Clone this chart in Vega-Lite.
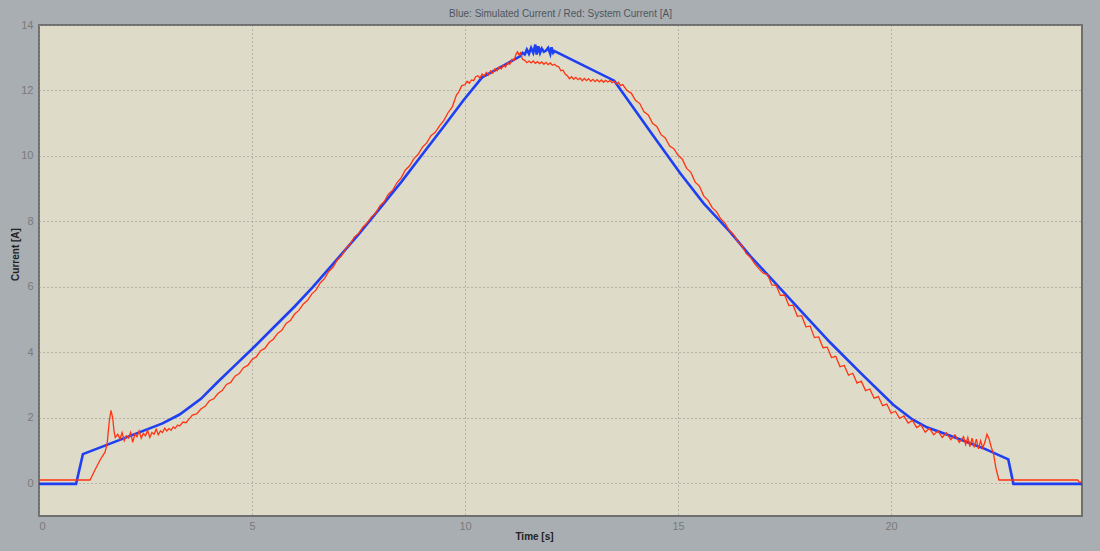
{
  "$schema": "https://vega.github.io/schema/vega-lite/v6.json",
  "autosize": "none",
  "width": 1043,
  "height": 491,
  "padding": {"left": 39, "top": 25, "right": 18, "bottom": 35},
  "background": "#a9aeb2",
  "title": {
    "text": "Blue: Simulated Current / Red: System Current [A]",
    "anchor": "middle",
    "font": "Liberation Sans",
    "fontSize": 10,
    "fontWeight": "normal",
    "color": "#4e5660",
    "baseline": "middle",
    "offset": 10,
    "dy": 15
  },
  "config": {
    "view": {"fill": "#dedbc9", "stroke": "#6f6f6f", "strokeWidth": 2},
    "axis": {
      "labelFont": "Liberation Sans",
      "labelFontSize": 11,
      "labelColor": "#7a7a7a",
      "titleFont": "Liberation Sans",
      "titleFontSize": 10,
      "titleFontWeight": "bold",
      "titleColor": "#222222",
      "ticks": false,
      "domain": false,
      "grid": true,
      "gridColor": "#8c8c8c",
      "gridDash": [1, 3],
      "gridWidth": 1
    }
  },
  "datasets": {
    "simulated": [
      {"t": 0, "v": -0.02}, {"t": 0.87, "v": -0.02}, {"t": 1.03, "v": 0.89},
      {"t": 2.9, "v": 1.83}, {"t": 3.3, "v": 2.1}, {"t": 3.8, "v": 2.58},
      {"t": 4.2, "v": 3.1}, {"t": 4.6, "v": 3.6}, {"t": 5.0, "v": 4.1},
      {"t": 5.5, "v": 4.75}, {"t": 6.0, "v": 5.4}, {"t": 6.43, "v": 6.0},
      {"t": 7.0, "v": 6.85}, {"t": 7.5, "v": 7.6}, {"t": 8.0, "v": 8.4},
      {"t": 8.5, "v": 9.2}, {"t": 9.0, "v": 10.05}, {"t": 9.5, "v": 10.9},
      {"t": 9.95, "v": 11.68}, {"t": 10.4, "v": 12.4}, {"t": 11.3, "v": 13.05},
      {"t": 11.35, "v": 13.15}, {"t": 11.4, "v": 13.1}, {"t": 11.45, "v": 13.25},
      {"t": 11.5, "v": 13.12}, {"t": 11.55, "v": 13.3}, {"t": 11.6, "v": 13.15},
      {"t": 11.65, "v": 13.4}, {"t": 11.68, "v": 13.1}, {"t": 11.72, "v": 13.35},
      {"t": 11.76, "v": 13.15}, {"t": 11.8, "v": 13.28}, {"t": 11.85, "v": 13.18},
      {"t": 11.9, "v": 13.22}, {"t": 11.95, "v": 13.3}, {"t": 12.0, "v": 13.12},
      {"t": 12.03, "v": 13.32}, {"t": 12.07, "v": 13.15}, {"t": 12.1, "v": 13.2},
      {"t": 13.5, "v": 12.3}, {"t": 13.8, "v": 11.75}, {"t": 14.4, "v": 10.65},
      {"t": 15.05, "v": 9.47}, {"t": 15.6, "v": 8.55}, {"t": 16.22, "v": 7.68},
      {"t": 16.69, "v": 6.95}, {"t": 17.39, "v": 5.96}, {"t": 18.0, "v": 5.1},
      {"t": 18.57, "v": 4.3}, {"t": 19.3, "v": 3.35}, {"t": 20.05, "v": 2.4},
      {"t": 20.5, "v": 1.95}, {"t": 20.84, "v": 1.71}, {"t": 21.5, "v": 1.4},
      {"t": 22.2, "v": 1.05}, {"t": 22.75, "v": 0.73}, {"t": 22.87, "v": -0.02},
      {"t": 24.48, "v": -0.02}
    ],
    "system": [
      {"t": 0, "v": 0.1}, {"t": 1.2, "v": 0.1}, {"t": 1.31, "v": 0.4}, {"t": 1.45, "v": 0.75},
      {"t": 1.55, "v": 0.95}, {"t": 1.6, "v": 1.22}, {"t": 1.65, "v": 1.9}, {"t": 1.69, "v": 2.23},
      {"t": 1.73, "v": 2.0}, {"t": 1.76, "v": 1.6}, {"t": 1.79, "v": 1.4}, {"t": 1.85, "v": 1.5},
      {"t": 1.9, "v": 1.35}, {"t": 1.95, "v": 1.55}, {"t": 2.0, "v": 1.3}, {"t": 2.05, "v": 1.45},
      {"t": 2.1, "v": 1.38}, {"t": 2.15, "v": 1.55}, {"t": 2.2, "v": 1.25}, {"t": 2.25, "v": 1.5},
      {"t": 2.3, "v": 1.42}, {"t": 2.35, "v": 1.6}, {"t": 2.4, "v": 1.38}, {"t": 2.45, "v": 1.52},
      {"t": 2.5, "v": 1.45}, {"t": 2.55, "v": 1.62}, {"t": 2.6, "v": 1.4}, {"t": 2.65, "v": 1.55},
      {"t": 2.7, "v": 1.5}, {"t": 2.75, "v": 1.65}, {"t": 2.8, "v": 1.48}, {"t": 2.85, "v": 1.6},
      {"t": 2.9, "v": 1.55}, {"t": 2.95, "v": 1.68}, {"t": 3.0, "v": 1.6}, {"t": 3.05, "v": 1.67},
      {"t": 3.1, "v": 1.62}, {"t": 3.15, "v": 1.72}, {"t": 3.2, "v": 1.68}, {"t": 3.25, "v": 1.78},
      {"t": 3.3, "v": 1.75}, {"t": 3.38, "v": 1.87}, {"t": 3.45, "v": 1.85}, {"t": 3.5, "v": 1.93},
      {"t": 3.6, "v": 2.08}, {"t": 3.7, "v": 2.12}, {"t": 3.8, "v": 2.27}, {"t": 3.9, "v": 2.35},
      {"t": 4.0, "v": 2.52}, {"t": 4.1, "v": 2.58}, {"t": 4.2, "v": 2.74}, {"t": 4.3, "v": 2.83},
      {"t": 4.4, "v": 3.02}, {"t": 4.5, "v": 3.08}, {"t": 4.6, "v": 3.27}, {"t": 4.7, "v": 3.35},
      {"t": 4.8, "v": 3.53}, {"t": 4.9, "v": 3.6}, {"t": 5.0, "v": 3.78}, {"t": 5.1, "v": 3.86},
      {"t": 5.2, "v": 4.05}, {"t": 5.3, "v": 4.12}, {"t": 5.4, "v": 4.3}, {"t": 5.5, "v": 4.4},
      {"t": 5.6, "v": 4.58}, {"t": 5.7, "v": 4.67}, {"t": 5.8, "v": 4.88}, {"t": 5.9, "v": 4.97},
      {"t": 6.0, "v": 5.17}, {"t": 6.1, "v": 5.28}, {"t": 6.2, "v": 5.47}, {"t": 6.3, "v": 5.58},
      {"t": 6.4, "v": 5.78}, {"t": 6.5, "v": 5.9}, {"t": 6.6, "v": 6.12}, {"t": 6.7, "v": 6.25},
      {"t": 6.8, "v": 6.47}, {"t": 6.9, "v": 6.6}, {"t": 7.0, "v": 6.82}, {"t": 7.1, "v": 6.95},
      {"t": 7.2, "v": 7.17}, {"t": 7.3, "v": 7.3}, {"t": 7.4, "v": 7.52}, {"t": 7.5, "v": 7.63},
      {"t": 7.6, "v": 7.82}, {"t": 7.7, "v": 7.95}, {"t": 7.8, "v": 8.13}, {"t": 7.9, "v": 8.25},
      {"t": 8.0, "v": 8.47}, {"t": 8.1, "v": 8.6}, {"t": 8.2, "v": 8.83}, {"t": 8.3, "v": 8.95},
      {"t": 8.4, "v": 9.18}, {"t": 8.5, "v": 9.33}, {"t": 8.6, "v": 9.57}, {"t": 8.7, "v": 9.7},
      {"t": 8.8, "v": 9.92}, {"t": 8.9, "v": 10.05}, {"t": 9.0, "v": 10.27}, {"t": 9.1, "v": 10.4},
      {"t": 9.2, "v": 10.62}, {"t": 9.3, "v": 10.72}, {"t": 9.4, "v": 10.92}, {"t": 9.5, "v": 11.08},
      {"t": 9.6, "v": 11.32}, {"t": 9.7, "v": 11.5}, {"t": 9.8, "v": 11.87}, {"t": 9.85, "v": 11.95},
      {"t": 9.92, "v": 12.14}, {"t": 10.0, "v": 12.18}, {"t": 10.05, "v": 12.28}, {"t": 10.1, "v": 12.22},
      {"t": 10.15, "v": 12.32}, {"t": 10.2, "v": 12.3}, {"t": 10.25, "v": 12.42}, {"t": 10.3, "v": 12.45},
      {"t": 10.35, "v": 12.38}, {"t": 10.4, "v": 12.5}, {"t": 10.45, "v": 12.44}, {"t": 10.5, "v": 12.55},
      {"t": 10.55, "v": 12.47}, {"t": 10.6, "v": 12.6}, {"t": 10.65, "v": 12.53}, {"t": 10.7, "v": 12.66},
      {"t": 10.75, "v": 12.6}, {"t": 10.8, "v": 12.72}, {"t": 10.85, "v": 12.66}, {"t": 10.9, "v": 12.78},
      {"t": 10.95, "v": 12.72}, {"t": 11.0, "v": 12.85}, {"t": 11.05, "v": 12.8}, {"t": 11.1, "v": 12.95},
      {"t": 11.15, "v": 12.92}, {"t": 11.2, "v": 13.12}, {"t": 11.23, "v": 13.18}, {"t": 11.27, "v": 13.08},
      {"t": 11.3, "v": 13.15}, {"t": 11.35, "v": 12.95}, {"t": 11.4, "v": 12.92}, {"t": 11.45, "v": 12.85},
      {"t": 11.5, "v": 12.9}, {"t": 11.55, "v": 12.84}, {"t": 11.6, "v": 12.9}, {"t": 11.65, "v": 12.83},
      {"t": 11.7, "v": 12.88}, {"t": 11.75, "v": 12.82}, {"t": 11.8, "v": 12.87}, {"t": 11.85, "v": 12.8},
      {"t": 11.9, "v": 12.86}, {"t": 11.95, "v": 12.79}, {"t": 12.0, "v": 12.84}, {"t": 12.05, "v": 12.77},
      {"t": 12.1, "v": 12.8}, {"t": 12.15, "v": 12.74}, {"t": 12.2, "v": 12.72}, {"t": 12.25, "v": 12.6},
      {"t": 12.3, "v": 12.62}, {"t": 12.35, "v": 12.5}, {"t": 12.4, "v": 12.45}, {"t": 12.45, "v": 12.36},
      {"t": 12.5, "v": 12.42}, {"t": 12.55, "v": 12.34}, {"t": 12.6, "v": 12.4}, {"t": 12.65, "v": 12.33},
      {"t": 12.7, "v": 12.38}, {"t": 12.75, "v": 12.3}, {"t": 12.8, "v": 12.37}, {"t": 12.85, "v": 12.3},
      {"t": 12.9, "v": 12.36}, {"t": 12.95, "v": 12.28}, {"t": 13.0, "v": 12.34}, {"t": 13.05, "v": 12.27},
      {"t": 13.1, "v": 12.33}, {"t": 13.15, "v": 12.26}, {"t": 13.2, "v": 12.32}, {"t": 13.25, "v": 12.25},
      {"t": 13.3, "v": 12.31}, {"t": 13.35, "v": 12.26}, {"t": 13.4, "v": 12.3}, {"t": 13.45, "v": 12.24},
      {"t": 13.5, "v": 12.28}, {"t": 13.55, "v": 12.2}, {"t": 13.6, "v": 12.25}, {"t": 13.65, "v": 12.15},
      {"t": 13.7, "v": 12.18}, {"t": 13.8, "v": 12.0}, {"t": 13.9, "v": 11.92}, {"t": 14.0, "v": 11.7},
      {"t": 14.1, "v": 11.6}, {"t": 14.2, "v": 11.35}, {"t": 14.3, "v": 11.25}, {"t": 14.4, "v": 11.0},
      {"t": 14.5, "v": 10.9}, {"t": 14.6, "v": 10.65}, {"t": 14.7, "v": 10.55}, {"t": 14.8, "v": 10.3},
      {"t": 14.9, "v": 10.22}, {"t": 15.0, "v": 10.02}, {"t": 15.1, "v": 9.9}, {"t": 15.2, "v": 9.62},
      {"t": 15.3, "v": 9.5}, {"t": 15.4, "v": 9.2}, {"t": 15.5, "v": 9.08}, {"t": 15.6, "v": 8.78},
      {"t": 15.7, "v": 8.65}, {"t": 15.8, "v": 8.42}, {"t": 15.9, "v": 8.3}, {"t": 16.0, "v": 8.08},
      {"t": 16.1, "v": 7.95}, {"t": 16.2, "v": 7.73}, {"t": 16.3, "v": 7.6}, {"t": 16.4, "v": 7.38},
      {"t": 16.5, "v": 7.25}, {"t": 16.6, "v": 7.02}, {"t": 16.7, "v": 6.9}, {"t": 16.8, "v": 6.7},
      {"t": 16.9, "v": 6.55}, {"t": 17.0, "v": 6.42}, {"t": 17.1, "v": 6.38}, {"t": 17.2, "v": 6.06},
      {"t": 17.3, "v": 6.05}, {"t": 17.4, "v": 5.74}, {"t": 17.5, "v": 5.75}, {"t": 17.6, "v": 5.43},
      {"t": 17.7, "v": 5.44}, {"t": 17.8, "v": 5.1}, {"t": 17.9, "v": 5.12}, {"t": 18.0, "v": 4.78},
      {"t": 18.1, "v": 4.8}, {"t": 18.2, "v": 4.45}, {"t": 18.3, "v": 4.47}, {"t": 18.4, "v": 4.14},
      {"t": 18.5, "v": 4.16}, {"t": 18.6, "v": 3.84}, {"t": 18.7, "v": 3.88}, {"t": 18.8, "v": 3.56},
      {"t": 18.9, "v": 3.6}, {"t": 19.0, "v": 3.3}, {"t": 19.1, "v": 3.36}, {"t": 19.2, "v": 3.06},
      {"t": 19.3, "v": 3.12}, {"t": 19.4, "v": 2.83}, {"t": 19.5, "v": 2.88}, {"t": 19.6, "v": 2.6},
      {"t": 19.7, "v": 2.65}, {"t": 19.8, "v": 2.37}, {"t": 19.9, "v": 2.42}, {"t": 20.0, "v": 2.14},
      {"t": 20.1, "v": 2.2}, {"t": 20.2, "v": 1.98}, {"t": 20.3, "v": 2.06}, {"t": 20.4, "v": 1.84},
      {"t": 20.5, "v": 1.92}, {"t": 20.6, "v": 1.7}, {"t": 20.7, "v": 1.78}, {"t": 20.8, "v": 1.56},
      {"t": 20.9, "v": 1.68}, {"t": 21.0, "v": 1.48}, {"t": 21.1, "v": 1.6}, {"t": 21.2, "v": 1.4},
      {"t": 21.3, "v": 1.54}, {"t": 21.4, "v": 1.33}, {"t": 21.5, "v": 1.48}, {"t": 21.6, "v": 1.25},
      {"t": 21.7, "v": 1.42}, {"t": 21.75, "v": 1.18}, {"t": 21.8, "v": 1.4}, {"t": 21.85, "v": 1.12},
      {"t": 21.9, "v": 1.38}, {"t": 21.95, "v": 1.1}, {"t": 22.0, "v": 1.35}, {"t": 22.05, "v": 1.05},
      {"t": 22.1, "v": 1.3}, {"t": 22.15, "v": 1.08}, {"t": 22.2, "v": 1.25}, {"t": 22.25, "v": 1.5},
      {"t": 22.3, "v": 1.35}, {"t": 22.35, "v": 1.1}, {"t": 22.4, "v": 0.92}, {"t": 22.46, "v": 0.46},
      {"t": 22.53, "v": 0.1}, {"t": 24.38, "v": 0.1}, {"t": 24.42, "v": 0.03}, {"t": 24.48, "v": 0.05}
    ]
  },
  "encoding": {
    "x": {
      "field": "t",
      "type": "quantitative",
      "scale": {"domain": [0, 24.48], "nice": false, "zero": false},
      "axis": {
        "title": "Time [s]",
        "values": [0, 5, 10, 15, 20],
        "labelPadding": 4,
        "titleX": 495,
        "titleY": 20,
        "titleBaseline": "middle",
        "titleAnchor": null
      }
    },
    "y": {
      "field": "v",
      "type": "quantitative",
      "scale": {"domain": [-1, 14], "nice": false, "zero": false},
      "axis": {
        "title": "Current [A]",
        "values": [0, 2, 4, 6, 8, 10, 12, 14],
        "labelPadding": 6,
        "titleX": -24,
        "titleY": 229,
        "titleAngle": -90,
        "titleAlign": "center",
        "titleBaseline": "middle"
      }
    }
  },
  "layer": [
    {
      "data": {"name": "simulated"},
      "mark": {"type": "line", "color": "#1f3ff2", "strokeWidth": 2.6, "clip": true}
    },
    {
      "data": {"name": "system"},
      "mark": {"type": "line", "color": "#ff3312", "strokeWidth": 1.3, "clip": true}
    }
  ]
}
